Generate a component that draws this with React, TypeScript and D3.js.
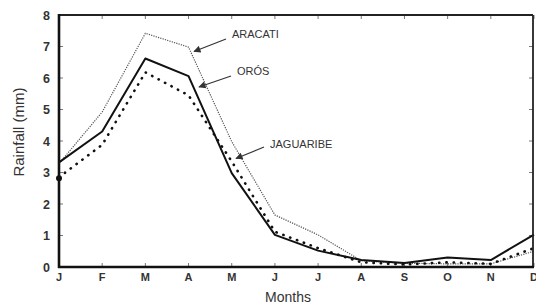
import React from "react";
import * as d3 from "d3";

const months = ["J", "F", "M", "A", "M", "J", "J", "A", "S", "O", "N", "D"];
const oros = [3.32, 4.3, 6.62, 6.06, 2.98, 1.02, 0.52, 0.22, 0.13, 0.3, 0.22, 1.03];
const aracati = [3.28, 4.92, 7.42, 6.98, 3.98, 1.65, 1.02, 0.2, 0.12, 0.1, 0.1, 0.5];
const jaguaribe = [2.85, 3.88, 6.18, 5.45, 3.35, 1.12, 0.6, 0.15, 0.08, 0.15, 0.1, 0.6];
const yTicks = [0, 1, 2, 3, 4, 5, 6, 7, 8];

const W = 536;
const H = 304;
const L = 59, R = 533, T = 15, B = 267;

export default function App() {
  const x = d3.scaleLinear().domain([0, 11]).range([L, 534]);
  const y = d3.scaleLinear().domain([0, 8]).range([B, T]);
  const line = d3
    .line<number>()
    .x((_, i) => x(i))
    .y((d) => y(d));
  const font = "'Liberation Sans', Arial, Helvetica, sans-serif";
  return (
    <svg
      width={W}
      height={H}
      style={{ position: "absolute", left: 0, top: 0, background: "#fff" }}
    >
      <defs>
        <marker id="ah" viewBox="0 0 10 10" refX="9" refY="5" markerWidth="7" markerHeight="6" orient="auto">
          <path d="M0,0 L10,5 L0,10 z" fill="#333" />
        </marker>
      </defs>
      {months.map((_, i) => (
        <g key={"xt" + i}>
          <line x1={x(i)} x2={x(i)} y1={B} y2={B - 4} stroke="#777" strokeWidth={1} />
          <line x1={x(i)} x2={x(i)} y1={T} y2={T + 4} stroke="#777" strokeWidth={1} />
        </g>
      ))}
      {yTicks.map((t) => (
        <g key={"yt" + t}>
          <line x1={R} x2={R - 4} y1={y(t)} y2={y(t)} stroke="#777" strokeWidth={1} />
          <line x1={L} x2={L + 4} y1={y(t)} y2={y(t)} stroke="#777" strokeWidth={1} />
        </g>
      ))}
      <path d={line(aracati) || ""} fill="none" stroke="#555" strokeWidth={1.2} strokeDasharray="1.2,1.2" />
      <path d={line(jaguaribe) || ""} fill="none" stroke="#111" strokeWidth={2.6} strokeDasharray="0.3,7" strokeLinecap="round" />
      <path d={line(oros) || ""} fill="none" stroke="#111" strokeWidth={2} strokeLinejoin="round" />
      <circle cx={x(0)} cy={y(jaguaribe[0] - 0.03)} r={3} fill="#111" />
      <line x1={L} x2={R} y1={T} y2={T} stroke="#222" strokeWidth={1.8} />
      <line x1={R} x2={R} y1={T} y2={B} stroke="#222" strokeWidth={1.8} />
      <line x1={L} x2={L} y1={T - 1} y2={B + 1} stroke="#111" strokeWidth={2.6} />
      <line x1={L - 1} x2={R + 1} y1={B} y2={B} stroke="#111" strokeWidth={2.6} />
      {yTicks.map((t) => (
        <text key={"yl" + t} x={50} y={y(t) + 4.5} textAnchor="end" fontFamily={font} fontWeight="bold" fontSize={12.5} fill="#333">
          {t}
        </text>
      ))}
      {months.map((m, i) => (
        <text key={"xl" + i} x={x(i)} y={281} textAnchor="middle" fontFamily={font} fontWeight="bold" fontSize={11} fill="#333">
          {m}
        </text>
      ))}
      <text x={288} y={302} textAnchor="middle" fontFamily="'Liberation Sans Narrow', 'Liberation Sans', Arial, sans-serif" fontSize={14} fill="#333">
        Months
      </text>
      <text transform="translate(24,132) rotate(-90)" textAnchor="middle" fontFamily={font} fontSize={15} fill="#333">
        Rainfall (mm)
      </text>
      <text x={232} y={38} fontFamily={font} fontSize={11} fill="#333">ARACATI</text>
      <line x1={226} y1={39} x2={194} y2={51.5} stroke="#333" strokeWidth={1.2} markerEnd="url(#ah)" />
      <text x={237} y={75} fontFamily={font} fontSize={11} fill="#333">ORÓS</text>
      <line x1={231} y1={76} x2={199} y2={87} stroke="#333" strokeWidth={1.2} markerEnd="url(#ah)" />
      <text x={270} y={147.5} fontFamily={font} fontSize={11} fill="#333">JAGUARIBE</text>
      <line x1={264} y1={147} x2={236} y2={158.5} stroke="#333" strokeWidth={1.2} markerEnd="url(#ah)" />
    </svg>
  );
}
